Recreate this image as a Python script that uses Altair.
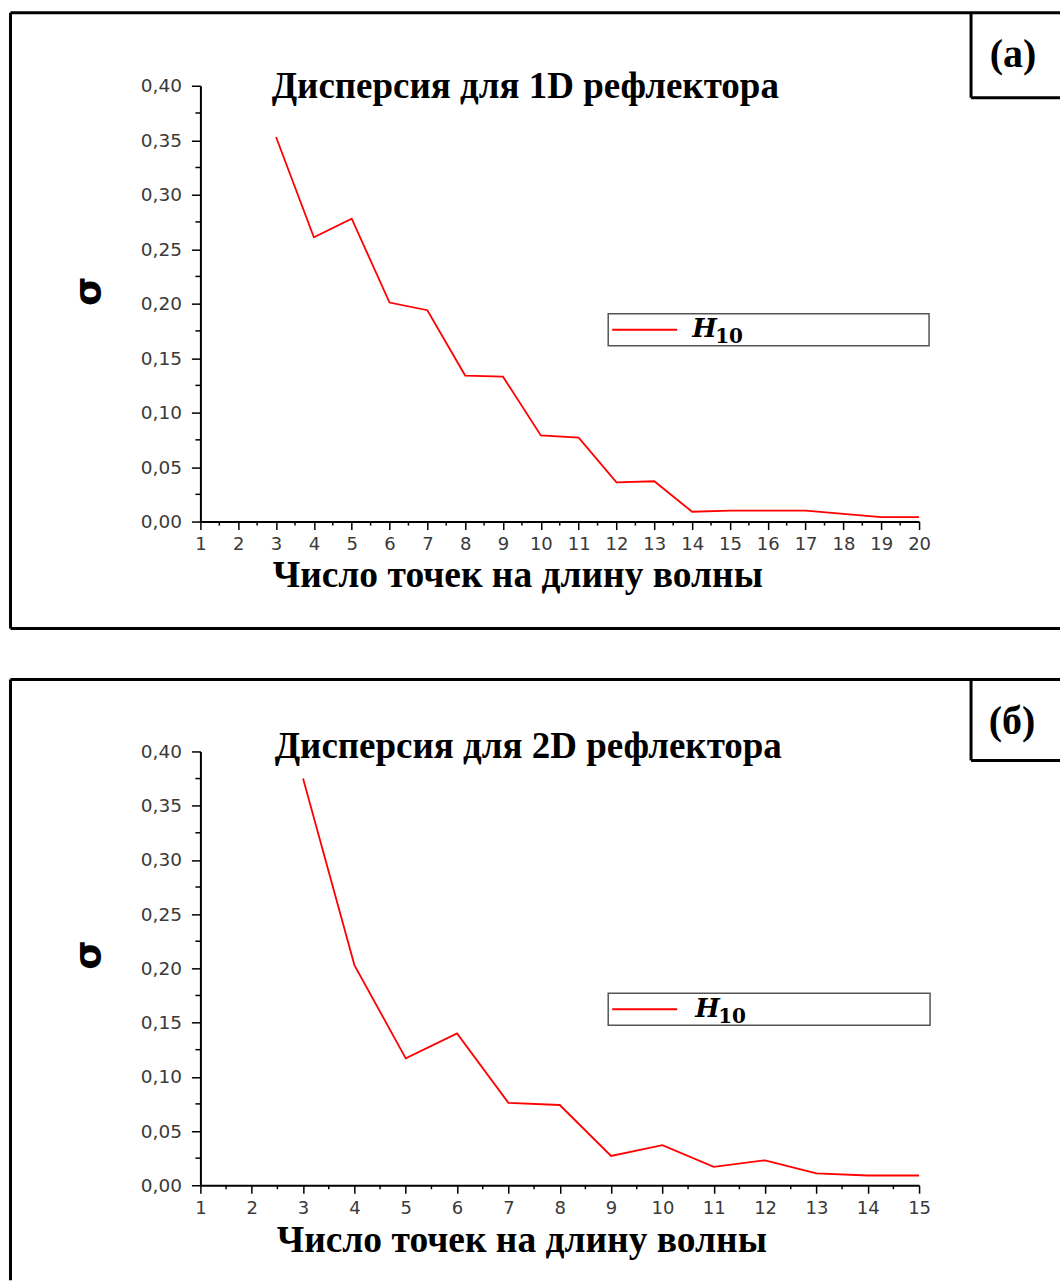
import altair as alt
import pandas as pd

# ---------------- data ----------------
n_1d = list(range(3, 21))
sigma_1d = [0.353, 0.261, 0.278, 0.201, 0.194, 0.134, 0.133, 0.079, 0.077,
            0.036, 0.037, 0.009, 0.010, 0.010, 0.010, 0.007, 0.004, 0.004]

n_2d = list(range(3, 16))
sigma_2d = [0.375, 0.203, 0.117, 0.140, 0.076, 0.074, 0.027, 0.037, 0.017,
            0.023, 0.011, 0.009, 0.009]

y_major = [0.0, 0.05, 0.10, 0.15, 0.20, 0.25, 0.30, 0.35, 0.40]
y_minor = [0.025, 0.075, 0.125, 0.175, 0.225, 0.275, 0.325, 0.375]

title_1d = "Дисперсия для 1D рефлектора"
title_2d = "Дисперсия для 2D рефлектора"
x_title = "Число точек на длину волны"
y_title = "σ"
legend_name = "H"
legend_sub = "10"
tag_1d = "(a)"
tag_2d = "(б)"

LABEL_FONT = "DejaVu Sans"
SERIF = "Liberation Serif"
one = pd.DataFrame({"d": [0]})


def seg(x1, x2, y1, y2, color="black", w=3):
    return alt.Chart(one).mark_rule(color=color, strokeWidth=w, clip=False).encode(
        x=alt.value(x1), x2=alt.value(x2), y=alt.value(y1), y2=alt.value(y2))


def txt(text, x, y, size, font=SERIF, weight="bold", style="normal", align="center"):
    return alt.Chart(one).mark_text(
        text=text, font=font, fontSize=size, fontWeight=weight, fontStyle=style,
        align=align, baseline="alphabetic", color="black", clip=False
    ).encode(x=alt.value(x), y=alt.value(y))


def panel(ns, sig, xmax, W, H, title, tag, p):
    df = pd.DataFrame({"n": ns, "sigma": sig})
    xs = alt.Scale(domain=[1, xmax], nice=False, zero=False)
    ys = alt.Scale(domain=[0, 0.4], nice=False, zero=False)
    xaxis = alt.Axis(
        values=list(range(1, xmax + 1)), format="d", grid=False,
        domainColor="black", domainWidth=2, tickColor="black", tickWidth=1.5,
        tickSize=8, labelPadding=6, labelFont=LABEL_FONT, labelFontSize=18,
        labelColor="#3a3a3a", labelFlush=False, labelOverlap=False,
        title=x_title, titleFont=SERIF, titleFontSize=37.5, titleFontWeight="bold",
        titleColor="black", titleX=p["xtx"], titleY=p["xty"],
        titleBaseline="alphabetic", titleAlign="center")
    yaxis = alt.Axis(
        values=y_major, grid=False,
        labelExpr="replace(format(datum.value, '.2f'), '.', ',')",
        domainColor="black", domainWidth=2, tickColor="black", tickWidth=1.5,
        tickSize=9, labelPadding=10, labelFont=LABEL_FONT, labelFontSize=18.5,
        labelColor="#3a3a3a", labelFlush=False, labelOverlap=False,
        title=y_title, titleFont=LABEL_FONT, titleFontSize=38, titleFontWeight="bold",
        titleColor="black", titleX=-112, titleY=p["yty"], titleAngle=270,
        titleBaseline="middle", titleAlign="center")

    line = alt.Chart(df).mark_line(color="#ff0000", strokeWidth=1.8).encode(
        x=alt.X("n:Q", scale=xs, axis=xaxis),
        y=alt.Y("sigma:Q", scale=ys, axis=yaxis),
    )

    xminor = alt.Chart(pd.DataFrame({"n": [i + 0.5 for i in range(1, xmax)]})).mark_rule(
        color="black", strokeWidth=1.5).encode(
        x=alt.X("n:Q", scale=xs, axis=xaxis), y=alt.value(H), y2=alt.value(H + 4))
    yminor = alt.Chart(pd.DataFrame({"sigma": y_minor})).mark_rule(
        color="black", strokeWidth=1.5).encode(
        y=alt.Y("sigma:Q", scale=ys, axis=yaxis), x=alt.value(-5), x2=alt.value(0))

    legend_box = alt.Chart(one).mark_rect(
        fill="white", stroke="#555", strokeWidth=1.5, clip=False).encode(
        x=alt.value(p["lx1"]), x2=alt.value(p["lx2"]),
        y=alt.value(p["ly1"]), y2=alt.value(p["ly2"]))
    legend_line = seg(p["lx1"] + 4, p["lx1"] + 69, p["lly"], p["lly"], color="#ff0000", w=2)
    legend_h = txt(legend_name, p["hx"], p["hy"], 26, font="DejaVu Serif",
                   style="italic", align="left")
    legend_s = txt(legend_sub, p["hx"] + 23, p["hy"] + 6, 20, font="DejaVu Serif",
                   align="left")

    frame = [
        seg(-190, 860, p["ft"], p["ft"]),
        seg(-190, -190, p["ft"], p["fb"]),
    ]
    if p.get("bottom_line", False):
        frame.append(seg(-190, 860, p["fb"], p["fb"]))
    box = [
        seg(p["bx"], p["bx"], p["ft"], p["bb"]),
        seg(p["bx"], 860, p["bb"], p["bb"]),
    ]

    layers = [line, xminor, yminor] + frame + box + [
        legend_box, legend_line, legend_h, legend_s,
        txt(title, p["tx"], p["ty"], 37),
        txt(tag, p["tagx"], p["tagy"], 40),
    ]
    return alt.layer(*layers).properties(width=W, height=H)


top = panel(n_1d, sigma_1d, 20, 719, 436, title_1d, tag_1d, dict(
    xtx=317, xty=65, yty=205,
    lx1=408, lx2=729, ly1=228, ly2=260, lly=244, hx=492, hy=251,
    ft=-73, fb=543, bottom_line=True, bx=771, bb=12,
    tx=325, ty=12, tagx=813, tagy=-19))

bottom = panel(n_2d, sigma_2d, 15, 719, 434, title_2d, tag_2d, dict(
    xtx=321, xty=66, yty=203,
    lx1=408, lx2=730, ly1=242, ly2=274, lly=258, hx=495, hy=266,
    ft=-72, fb=529, bx=771, bb=9,
    tx=328, ty=7, tagx=812, tagy=-17))

chart = alt.vconcat(top, bottom, spacing=47).configure_view(stroke=None).properties(
    padding={"left": 8.5, "top": 10.5, "right": 0, "bottom": 0},
    background="white")

chart.save("out.html", embed_options={"renderer": "svg", "actions": False})
